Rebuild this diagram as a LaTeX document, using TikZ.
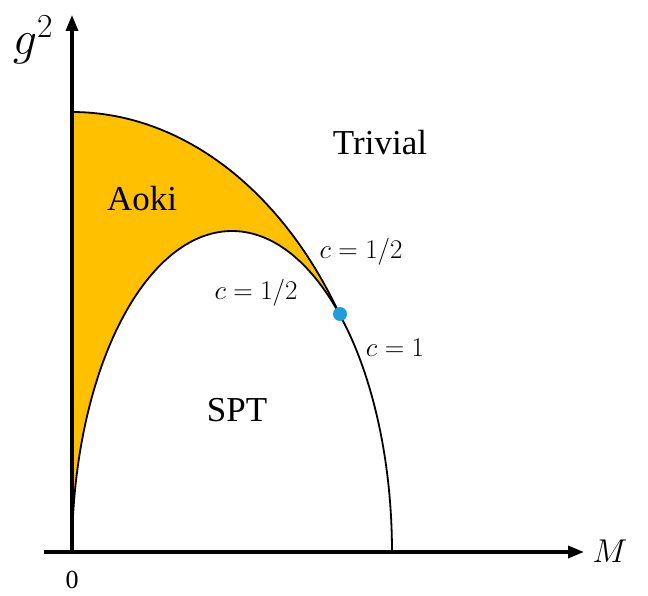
\RequirePackage{fix-cm}
\documentclass[tikz,border=0pt]{standalone}
\usepackage{fontspec}
\setmainfont{Liberation Serif}
\usetikzlibrary{arrows.meta}
\definecolor{aoki}{RGB}{255,192,0}
\definecolor{dotblue}{RGB}{30,158,218}
\tikzset{
  axis/.style={line width=3.5pt,-{Triangle[length=16pt,width=12pt]}},
  curve/.style={line width=1.8pt},
  region/.style={font=\fontsize{35}{40}\selectfont},
  clabel/.style={font=\fontsize{27}{32}\selectfont},
}
\begin{document}
\begin{tikzpicture}[x=1pt,y=1pt]
\useasboundingbox (0,0) rectangle (648,595);
% filled Aoki region
\fill[aoki] (72,483)
  -- plot[domain=90:32.56,samples=80] ({72+318*cos(\x)},{43+440*sin(\x)})
  -- plot[domain=47.55:180,samples=100] ({232+160*cos(\x)},{43+321*sin(\x)})
  -- cycle;
% curves
\draw[curve] plot[domain=90:32.56,samples=80] ({72+318*cos(\x)},{43+440*sin(\x)});
\draw[curve] plot[domain=0:180,samples=160] ({232+160*cos(\x)},{43+321*sin(\x)});
% axes
\coordinate (o) at (72,43);
\coordinate (ytop) at (72,580);
\coordinate (xl) at (44,43);
\coordinate (xr) at (584,43);
\draw[axis] (o) -- (ytop);
\draw[axis] (xl) -- (xr);
% dot
\node[circle,fill=dotblue,inner sep=0pt,minimum size=14pt] (dot) at (340,281) {};
% labels
\node (g) at (33,555) {\fontsize{48}{56}\selectfont$g^2$};
\node (M) at (610,44) {\fontsize{33}{38}\selectfont$M$};
\node (zero) at (72,15) {\fontsize{26}{30}\selectfont 0};
\node[region] (triv) at (380,452) {Trivial};
\node[region] (aokil) at (142,396) {Aoki};
\node[region] (spt) at (237,185) {SPT};
\node[clabel] (c1) at (361,343) {$c=1/2$};
\node[clabel] (c2) at (256,302) {$c=1/2$};
\node[clabel] (c3) at (395,247) {$c=1$};
\end{tikzpicture}
\end{document}
